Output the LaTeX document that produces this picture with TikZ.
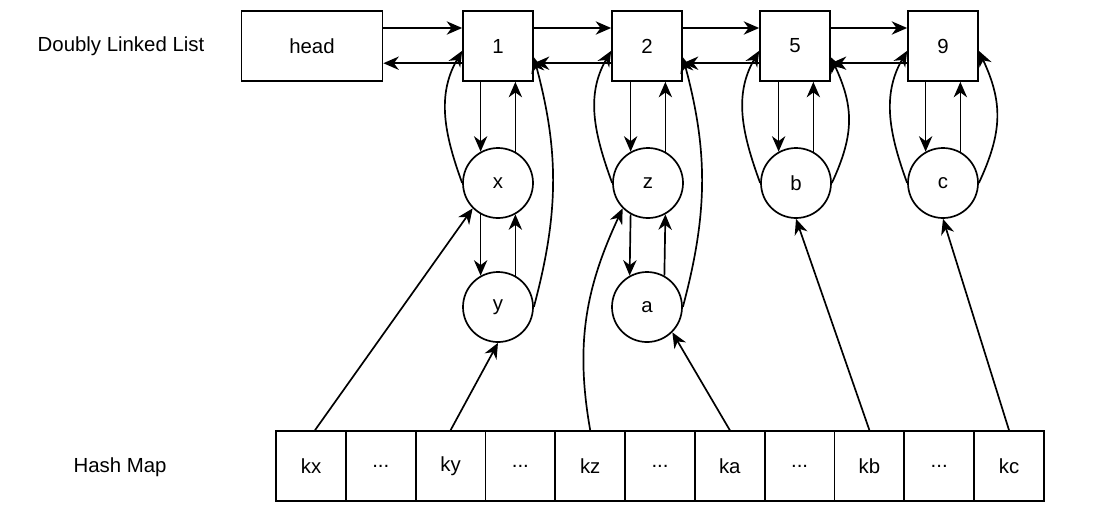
\documentclass[tikz,border=0pt]{standalone}
\usepackage{fontspec}
\setmainfont{Liberation Sans}
\usetikzlibrary{arrows.meta}
\newcommand\elided{...}

\begin{document}
\begin{tikzpicture}[x=0.025cm, y=-0.025cm, line width=1.2pt,
    every node/.style={font=\fontsize{14.5}{17}\selectfont},
    box/.style={draw, minimum width=1.75cm, minimum height=1.75cm, inner sep=0pt},
    elem/.style={draw, circle, minimum size=1.75cm, inner sep=0pt},
    cell/.style={draw, minimum width=1.745cm, minimum height=1.75cm, inner sep=0pt},
    arr/.style={-{Stealth[length=11pt, width=9.5pt, inset=3.5pt]}}]
    \useasboundingbox (0,0) rectangle (1100,516);
    \node (dll) at (121,46) {Doubly Linked List};
    \node (hm) at (120,467) {Hash Map};
    \node[box, minimum width=3.525cm] (head) at (312,46) {head};
    \node[box] (n1) at (498,46) {1};
    \node[box] (n2) at (647,46) {2};
    \node[box] (n5) at (795,46) {5};
    \node[box] (n9) at (943,46) {9};
    \node[elem] (x) at (498,183) {x};
    \node[elem] (z) at (648,183) {z};
    \node[elem] (b) at (796,183) {b};
    \node[elem] (c) at (943,183) {c};
    \node[elem] (y) at (498,307) {y};
    \node[elem] (a) at (647,307) {a};
    \foreach \lbl [count=\i from 0] in {kx,\elided,ky,\elided,kz,\elided,ka,\elided,kb,\elided,kc}
        \node[cell] (h\i) at (311+69.8*\i,466) {\lbl};
    \foreach \p/\q in {head/n1,n1/n2,n2/n5,n5/n9} {
        \draw[arr] ([yshift=0.45cm]\p.east) -- ([yshift=0.45cm]\q.west);
        \draw[arr] ([yshift=-0.43cm]\q.west) -- ([yshift=-0.43cm]\p.east);
    }
    \foreach \p/\q in {n1/x,n2/z,n5/b,n9/c} {
        \draw[arr] (\q.119 |- \p.south) -- (\q.119);
        \draw[arr] (\q.61) -- (\q.61 |- \p.south);
    }
    \foreach \p/\q in {x/y,z/a} {
        \draw[arr] (\p.241) -- (\q.119);
        \draw[arr] (\q.61) -- (\p.299);
    }
    \foreach \p/\q in {x/n1,z/n2,b/n5,c/n9}
        \draw[arr] (\p.west) to[out=110, in=-120] ([yshift=-0.12cm]\q.west);
    \draw[arr] (y.east) to[out=75, in=-75] ([yshift=-0.28cm]n1.east);
    \draw[arr] (a.east) to[out=75, in=-75] ([yshift=-0.28cm]n2.east);
    \draw[arr] (b.east) to[out=65, in=-65, looseness=1.1] ([yshift=-0.28cm]n5.east);
    \draw[arr] (c.east) to[out=65, in=-65, looseness=1.1] ([yshift=-0.12cm]n9.east);
    \draw[arr] ([xshift=0.1cm]h0.north) -- (x.225);
    \draw[arr] (h2.north) -- (y.south);
    \draw[arr] (h4.north) to[out=100, in=-115] (z.225);
    \draw[arr] (h6.north) -- (a.-45);
    \draw[arr] (h8.north) -- (b.south);
    \draw[arr] (h10.north) -- (c.south);
\end{tikzpicture}
\end{document}
